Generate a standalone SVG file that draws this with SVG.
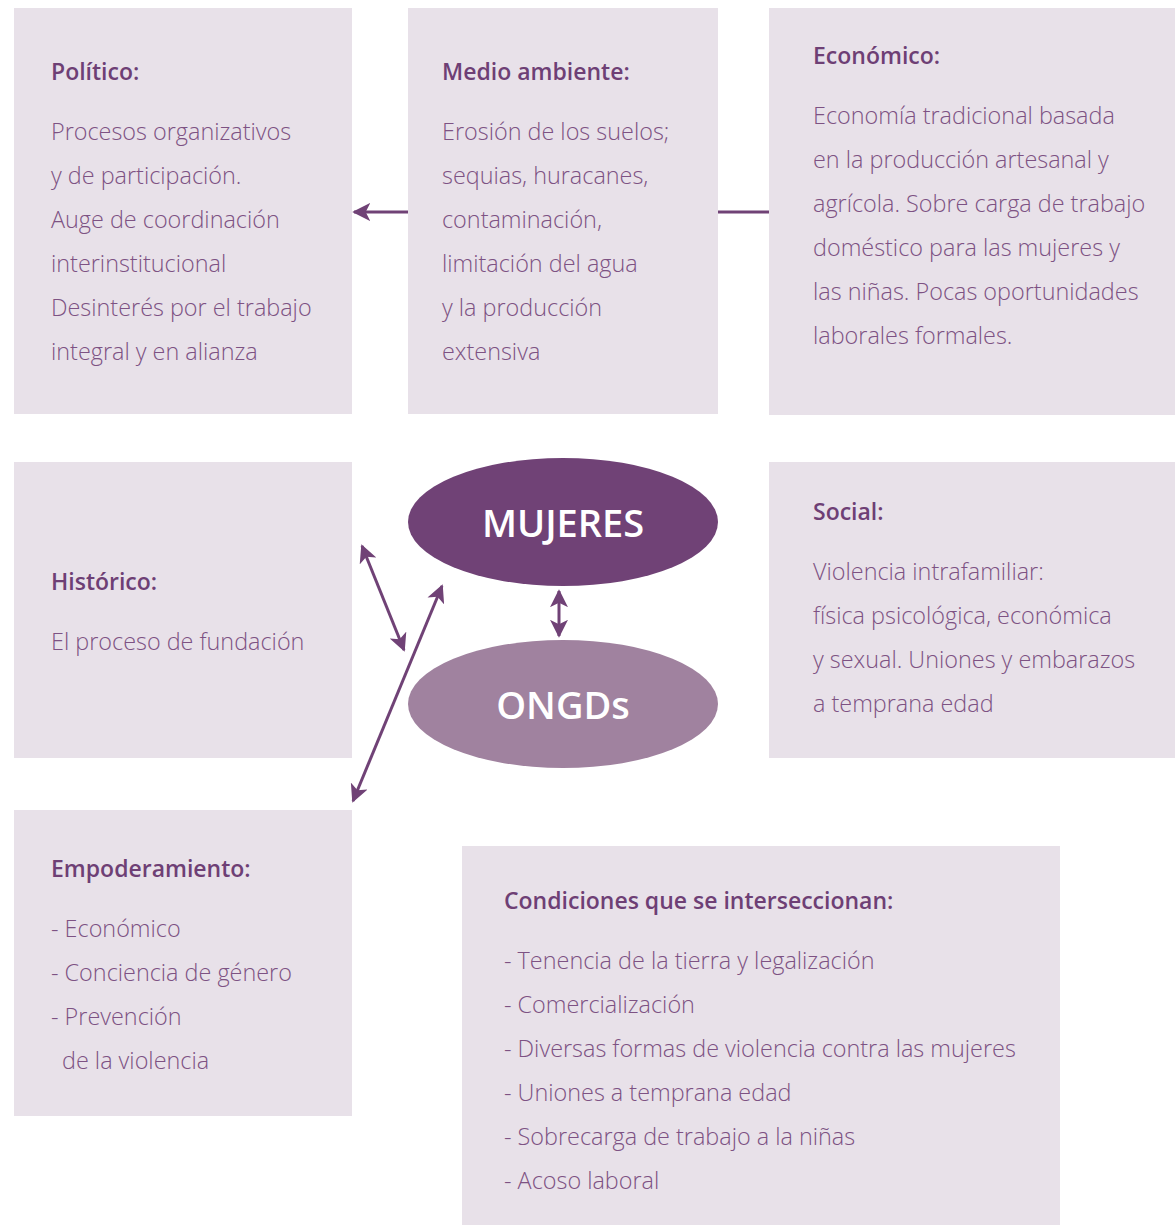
<svg xmlns="http://www.w3.org/2000/svg" width="1175" height="1225" viewBox="0 0 1175 1225">
<style>
.box{fill:#e8e1e9}
.h{font-family:"Open Sans","Liberation Sans",sans-serif;font-weight:600;font-size:23px;fill:#6e3f75}
.t{font-family:"Open Sans","Liberation Sans",sans-serif;font-weight:300;font-size:23.4px;fill:#7d5283}
.c{stroke:#704276;stroke-width:3;fill:none}
.e{font-family:"Open Sans","Liberation Sans",sans-serif;font-weight:600;font-size:38px;fill:#ffffff;text-anchor:middle}
</style>
<defs>
<marker id="ah" viewBox="0 0 10 10" refX="9" refY="5" markerWidth="6" markerHeight="6" orient="auto-start-reverse" markerUnits="strokeWidth">
<path d="M0,0 L10,5 L0,10 L2.5,5 z" fill="#704276"/>
</marker>
</defs>
<rect width="1175" height="1225" fill="#ffffff"/>
<g id="politico">
<rect class="box" x="14" y="8" width="338" height="406"/>
<text class="h" x="51" y="80">Político:</text>
<text class="t" x="51" y="140">Procesos organizativos</text>
<text class="t" x="51" y="184">y de participación.</text>
<text class="t" x="51" y="228">Auge de coordinación</text>
<text class="t" x="51" y="272">interinstitucional</text>
<text class="t" x="51" y="316">Desinterés por el trabajo</text>
<text class="t" x="51" y="360">integral y en alianza</text>
</g>
<g id="medio-ambiente">
<rect class="box" x="408" y="8" width="310" height="406"/>
<text class="h" x="442" y="80">Medio ambiente:</text>
<text class="t" x="442" y="140">Erosión de los suelos;</text>
<text class="t" x="442" y="184">sequias, huracanes,</text>
<text class="t" x="442" y="228">contaminación,</text>
<text class="t" x="442" y="272">limitación del agua</text>
<text class="t" x="442" y="316">y la producción</text>
<text class="t" x="442" y="360">extensiva</text>
</g>
<g id="economico">
<rect class="box" x="769" y="8" width="406" height="407"/>
<text class="h" x="813" y="64">Económico:</text>
<text class="t" x="813" y="124">Economía tradicional basada</text>
<text class="t" x="813" y="168">en la producción artesanal y</text>
<text class="t" x="813" y="212">agrícola. Sobre carga de trabajo</text>
<text class="t" x="813" y="256">doméstico para las mujeres y</text>
<text class="t" x="813" y="300">las niñas. Pocas oportunidades</text>
<text class="t" x="813" y="344">laborales formales.</text>
</g>
<g id="historico">
<rect class="box" x="14" y="462" width="338" height="296"/>
<text class="h" x="51" y="590">Histórico:</text>
<text class="t" x="51" y="650">El proceso de fundación</text>
</g>
<g id="social">
<rect class="box" x="769" y="462" width="406" height="296"/>
<text class="h" x="813" y="520">Social:</text>
<text class="t" x="813" y="580">Violencia intrafamiliar:</text>
<text class="t" x="813" y="624">física psicológica, económica</text>
<text class="t" x="813" y="668">y sexual. Uniones y embarazos</text>
<text class="t" x="813" y="712">a temprana edad</text>
</g>
<g id="empoderamiento">
<rect class="box" x="14" y="810" width="338" height="306"/>
<text class="h" x="51" y="877">Empoderamiento:</text>
<text class="t" x="51" y="937">- Económico</text>
<text class="t" x="51" y="981">- Conciencia de género</text>
<text class="t" x="51" y="1025">- Prevención</text>
<text class="t" x="62" y="1069">de la violencia</text>
</g>
<g id="condiciones">
<rect class="box" x="462" y="846" width="598" height="379"/>
<text class="h" x="504" y="909">Condiciones que se interseccionan:</text>
<text class="t" x="504" y="969">- Tenencia de la tierra y legalización</text>
<text class="t" x="504" y="1013">- Comercialización</text>
<text class="t" x="504" y="1057">- Diversas formas de violencia contra las mujeres</text>
<text class="t" x="504" y="1101">- Uniones a temprana edad</text>
<text class="t" x="504" y="1145">- Sobrecarga de trabajo a la niñas</text>
<text class="t" x="504" y="1189">- Acoso laboral</text>
</g>
<g id="mujeres">
<ellipse cx="563" cy="522" rx="155" ry="64" fill="#704276"/>
<text class="e" x="563" y="537">MUJERES</text>
</g>
<g id="ongds">
<ellipse cx="563" cy="704" rx="155" ry="64" fill="#a0829f"/>
<text class="e" x="563" y="719">ONGDs</text>
</g>
<g id="connectors">
<line class="c" x1="408" y1="212" x2="354" y2="212" marker-end="url(#ah)"/>
<line class="c" x1="718" y1="212" x2="769" y2="212"/>
<line class="c" x1="362" y1="546" x2="404" y2="650" marker-start="url(#ah)" marker-end="url(#ah)"/>
<line class="c" x1="353" y1="801" x2="442" y2="586" marker-start="url(#ah)" marker-end="url(#ah)"/>
<line class="c" x1="559" y1="591" x2="559" y2="636" marker-start="url(#ah)" marker-end="url(#ah)"/>
</g>
</svg>
